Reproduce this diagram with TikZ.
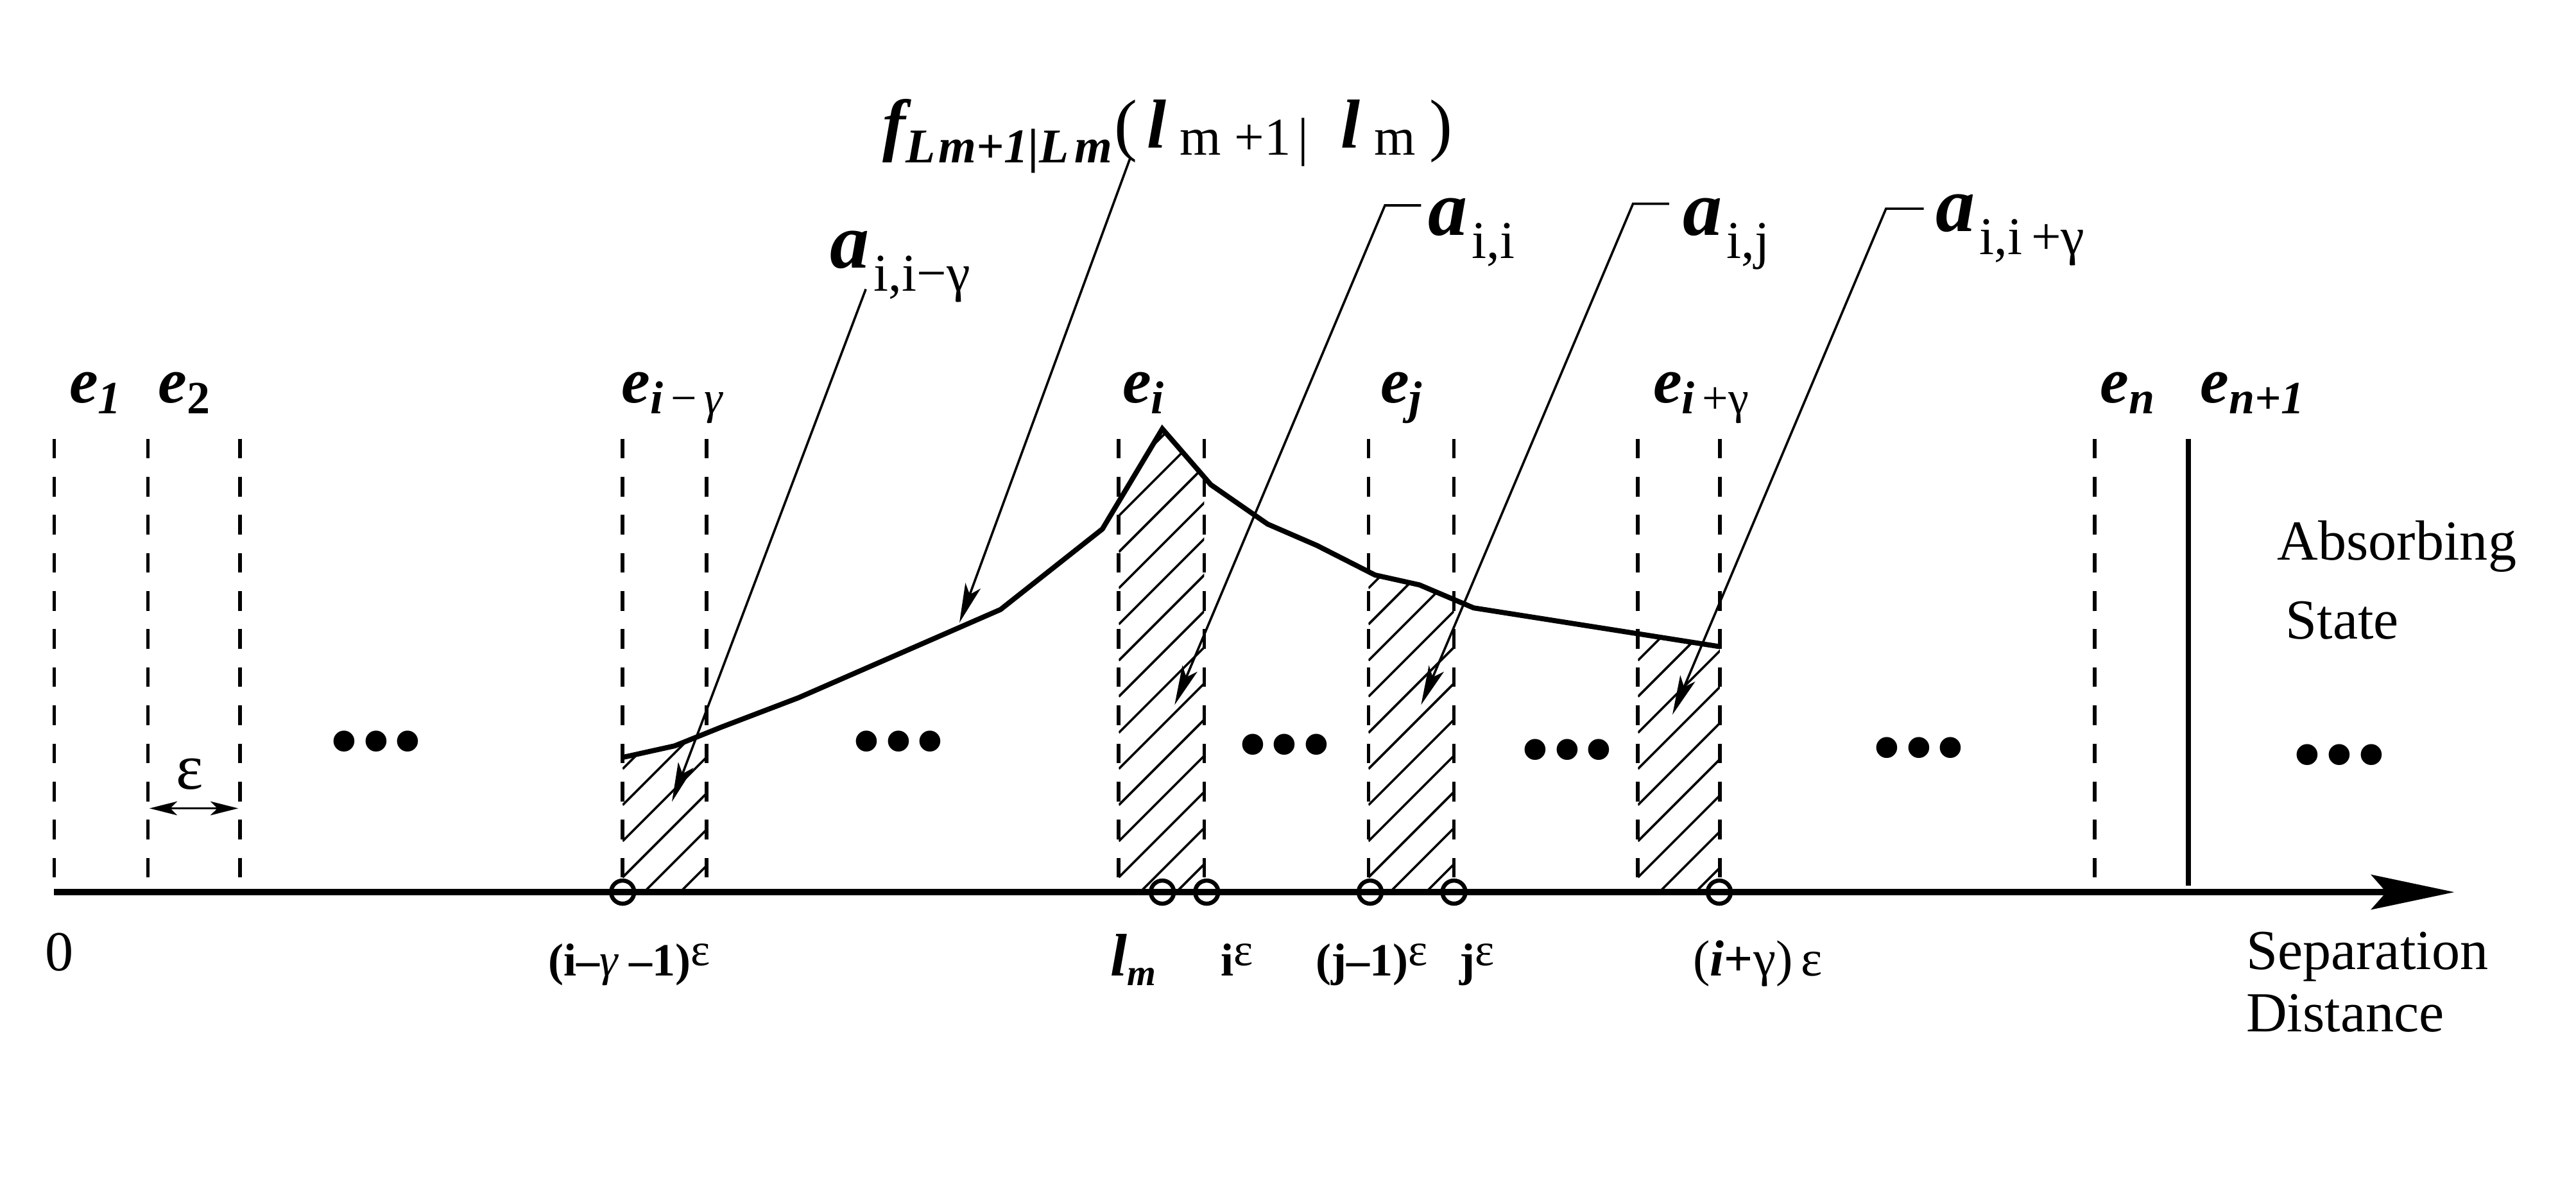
\documentclass[tikz,border=0pt]{standalone}
\usepackage{fontspec}
\setmainfont{Liberation Serif}
\usetikzlibrary{arrows.meta}
\usetikzlibrary{calc}

\newcommand{\esub}[1]{\raisebox{-4.7pt}{\fontsize{20}{20}\selectfont #1}}
\newcommand{\asub}[1]{\kern2pt\raisebox{-10pt}{\fontsize{23}{23}\selectfont\mdseries\upshape #1}}
\newcommand{\bdots}{•\kern0.5pt•\kern0.5pt•}

\tikzset{
  bin/.style={line width=1.6pt, dash pattern=on 8.5pt off 8pt},
  axis/.style={line width=2.7pt, -{Stealth[length=36pt,width=15pt,inset=6.5pt]}},
  curve/.style={line width=2.2pt},
  lead/.style={line width=1pt, -{Stealth[length=17pt,width=7pt,inset=4pt]}},
  hatch/.style={line width=1pt},
  ocirc/.style={circle, draw, line width=1.8pt, minimum size=10pt, inner sep=0pt},
  elab/.style={anchor=base west, inner sep=0pt, font=\fontsize{28}{30}\selectfont\bfseries\itshape},
  alab/.style={anchor=base west, inner sep=0pt, font=\fontsize{34}{36}\selectfont\bfseries\itshape},
  tlab/.style={anchor=base west, inner sep=0pt, font=\fontsize{24.5}{26}\selectfont},
  blab/.style={anchor=base, inner sep=0pt, font=\fontsize{20}{22}\selectfont\bfseries},
  dotsn/.style={inner sep=0pt, font=\fontsize{38}{38}\selectfont},
}

\begin{document}
\begin{tikzpicture}[x=0.25mm, y=-0.25mm]
\useasboundingbox (0,0) rectangle (1568,727);

% axis ends
\coordinate (o) at (33,543);
\coordinate (xend) at (1494,543);

% points of the density curve
\coordinate (c1) at (379,461);
\coordinate (c2) at (410.6,454);
\coordinate (c3) at (439,442.6);
\coordinate (c4) at (486,424.7);
\coordinate (c5) at (609,371);
\coordinate (c6) at (671,322);
\coordinate (c7) at (707.5,261);
\coordinate (c8) at (737,295);
\coordinate (c9) at (771.6,319);
\coordinate (c10) at (801.6,332);
\coordinate (c11) at (837,350);
\coordinate (c12) at (864,356);
\coordinate (c13) at (897,370);
\coordinate (c14) at (1047,393.6);

% hatched bins under the curve
\foreach \xl/\xr in {379/430, 681/733, 833/885, 997/1047} {
  \begin{scope}
    \clip (\xl,200) rectangle (\xr,543);
    \clip (c1) -- (c2) -- (c3) -- (c4) -- (c5) -- (c6) -- (c7) -- (c8) -- (c9)
      -- (c10) -- (c11) -- (c12) -- (c13) -- (c14) -- (1047,543) -- (379,543) -- cycle;
    \foreach \k in {0,...,16}
      \draw[hatch] (\xl,600-\k*22) -- ++(80,-80);
  \end{scope}
}

% bin edges
\foreach \x in {33,90,146,379,430,681,733,833,885,997,1047,1275}
  \draw[bin] (\x,267) -- (\x,543);
\draw[line width=2.4pt] (1332,267) -- (1332,539);

% density curve
\draw[curve] (c1) -- (c2) -- (c3) -- (c4) -- (c5) -- (c6) -- (c7) -- (c8) -- (c9)
  -- (c10) -- (c11) -- (c12) -- (c13) -- (c14);

\draw[axis] (o) -- (xend);

% points on the axis
\foreach \x/\nm in {379/p1, 707.5/p2, 734.5/p3, 834/p4, 885/p5, 1046.5/p6}
  \node[ocirc] (\nm) at (\x,543) {};

% state labels
\node[elab] (e1) at (42,245) {e\esub{1}};
\node[elab] (e2) at (96,245) {e\esub{\upshape 2}};
\node[elab] (eilg) at (378,245) {e\esub{i\,{\mdseries\upshape −}\,{\mdseries γ}}};
\node[elab] (ei) at (683,245) {e\esub{i}};
\node[elab] (ej) at (840,245) {e\esub{j}};
\node[elab] (eipg) at (1006,245) {e\esub{i\,{\mdseries\upshape +γ}}};
\node[elab] (en) at (1278,245) {e\esub{n}};
\node[elab] (enp1) at (1339,245) {e\esub{n+1}};

% transition labels
\node[alab] (aiilg) at (505,163) {a\asub{i,i−γ}};
\node[alab] (aii) at (869,143) {a\asub{i,i}};
\node[alab] (aij) at (1024,143) {a\asub{i,j}};
\node[alab] (aiipg) at (1178,141) {a\asub{i,i\,+γ}};

\node[anchor=base west, inner sep=0pt] (flab) at (537,90) {%
  {\fontsize{30}{30}\selectfont\bfseries\itshape f}%
  \raisebox{-6.5pt}{\fontsize{21}{21}\selectfont\bfseries\itshape L\kern1.5pt m+1|L\kern2.5pt m}%
  \kern1pt{\fontsize{30}{30}\selectfont (}\kern4pt%
  {\fontsize{30}{30}\selectfont\bfseries\itshape l}\kern6pt%
  \raisebox{-3pt}{\fontsize{23}{23}\selectfont m +1\kern3pt|}\kern14pt%
  {\fontsize{30}{30}\selectfont\bfseries\itshape l}\kern6pt%
  \raisebox{-3pt}{\fontsize{23}{23}\selectfont m}\kern6pt%
  {\fontsize{30}{30}\selectfont )}};

\node[tlab] (abs) at (1386,341) {Absorbing};
\node[tlab] (st) at (1391,389) {State};
\node[tlab] (sep) at (1367,590) {Separation};
\node[tlab] (dist) at (1367,628) {Distance};
\node[tlab, anchor=base] (zero) at (36,591) {0};

% axis labels
\node[blab] (bl1) at (383,594) {(i–{\mdseries\itshape γ} –1)\raisebox{4.5pt}{\mdseries ε}};
\node[blab] (bl2) at (690,594) {{\fontsize{26}{26}\selectfont\itshape l}\raisebox{-4pt}{\fontsize{16}{16}\selectfont\itshape m}};
\node[blab] (bl3) at (753,594) {i\raisebox{4.5pt}{\mdseries ε}};
\node[blab] (bl4) at (835,594) {(j–1)\raisebox{4.5pt}{\mdseries ε}};
\node[blab] (bl5) at (899,594) {j\raisebox{4.5pt}{\mdseries ε}};
\node[blab, font=\fontsize{22}{24}\selectfont] (bl6) at (1070,594) {({\bfseries\itshape i}\textbf{+}γ)\,ε};

% dots
\node[dotsn] (d1) at (229,457) {\bdots};
\node[dotsn] (d2) at (547,457) {\bdots};
\node[dotsn] (d3) at (782,459) {\bdots};
\node[dotsn] (d4) at (954,462) {\bdots};
\node[dotsn] (d5) at (1168,461) {\bdots};
\node[dotsn] (d6) at (1424,465) {\bdots};

% bin width
\coordinate (epsl) at (91,492);
\coordinate (epsr) at (145,492);
\draw[line width=1pt, {Stealth[length=12pt,width=6pt,inset=3pt]}-{Stealth[length=12pt,width=6pt,inset=3pt]}] (epsl) -- (epsr);
\node[inner sep=0pt, font=\fontsize{28}{28}\selectfont] (eps) at (115.5,471) {ε};

% leaders
\coordinate (aiilgS) at (527,176);
\coordinate (aiilgT) at (409,488);
\draw[lead] (aiilgS) -- (aiilgT);
\coordinate (fS) at (688,96);
\coordinate (fT) at (584,379);
\draw[lead] (fS) -- (fT);
\coordinate (aiiS) at (865,125);
\coordinate (aiiK) at (843,125);
\coordinate (aiiT) at (715,429);
\draw[lead] (aiiS) -- (aiiK) -- (aiiT);
\coordinate (aijS) at (1016,124);
\coordinate (aijK) at (994,124);
\coordinate (aijT) at (865,429);
\draw[lead] (aijS) -- (aijK) -- (aijT);
\coordinate (aiipgS) at (1171,127);
\coordinate (aiipgK) at (1148,127);
\coordinate (aiipgT) at (1018,435);
\draw[lead] (aiipgS) -- (aiipgK) -- (aiipgT);
\end{tikzpicture}
\end{document}
